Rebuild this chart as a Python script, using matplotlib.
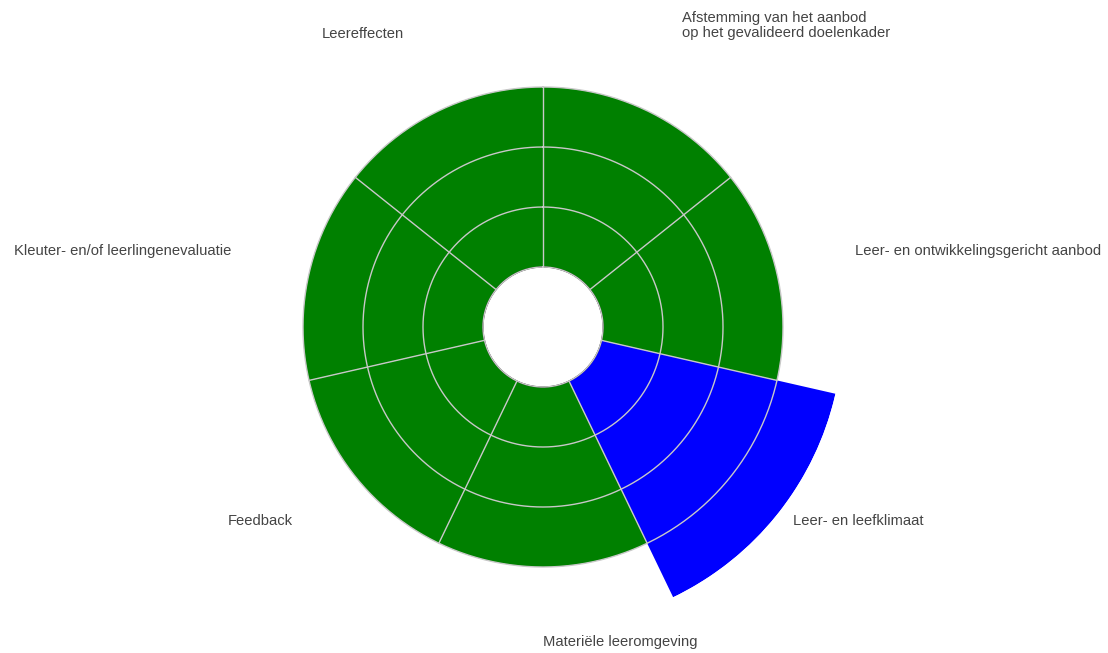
import numpy as np
import matplotlib
matplotlib.use("Agg")
import matplotlib.pyplot as plt
from matplotlib.transforms import offset_copy

categories = [
    "Afstemming van het aanbod\nop het gevalideerd doelenkader",
    "Leer- en ontwikkelingsgericht aanbod",
    "Leer- en leefklimaat",
    "Materiële leeromgeving",
    "Feedback",
    "Kleuter- en/of leerlingenevaluatie",
    "Leereffecten",
]
values = [3, 3, 4, 3, 3, 3, 3]
bar_colors = ["#008000", "#008000", "#0000ff", "#008000", "#008000", "#008000", "#008000"]
grid_levels = [0, 1, 2, 3]

W, H = 1108, 653
fig = plt.figure(figsize=(W / 100, H / 100), dpi=100)
cx, cy, R = 543, 327, 300
ax = fig.add_axes([(cx - R) / W, (H - cy - R) / H, 2 * R / W, 2 * R / H], projection="polar")
ax.set_theta_zero_location("N")
ax.set_theta_direction(-1)
ax.set_ylim(0, 4)
ax.set_rorigin(-1)

n = len(categories)
step = 2 * np.pi / n
centers = np.arange(n) * step + step / 2
ax.bar(centers, values, width=step, bottom=0, color=bar_colors, edgecolor="none", linewidth=0, zorder=2)

grid_color = "#c8c8c8"
tt = np.linspace(0, 2 * np.pi, 721)
for lv in grid_levels:
    ax.plot(tt, np.full_like(tt, lv), color=grid_color, lw=1, zorder=3, clip_on=False)
for i in range(n):
    ax.plot([i * step, i * step], [0, 3], color=grid_color, lw=1, zorder=3)

ax.grid(False)
for sp in ax.spines.values():
    sp.set_visible(False)
ax.set_xticks([])
ax.set_yticks([])
ax.patch.set_alpha(0)

lab_r = 4.33
tr_single = offset_copy(ax.transData, fig=fig, x=0, y=5, units="dots")
tr_multi = offset_copy(ax.transData, fig=fig, x=0, y=-1, units="dots")
for c, lab in zip(centers, categories):
    deg = np.degrees(c)
    ha = "left" if deg <= 180.01 else "right"
    multi = "\n" in lab
    ax.text(c, lab_r, lab, ha=ha, va="bottom" if multi else "center",
            transform=tr_multi if multi else tr_single,
            fontsize=10.6, color="#444444", family="Liberation Sans",
            linespacing=1.1, clip_on=False)

fig.savefig("out.png", dpi=100)
